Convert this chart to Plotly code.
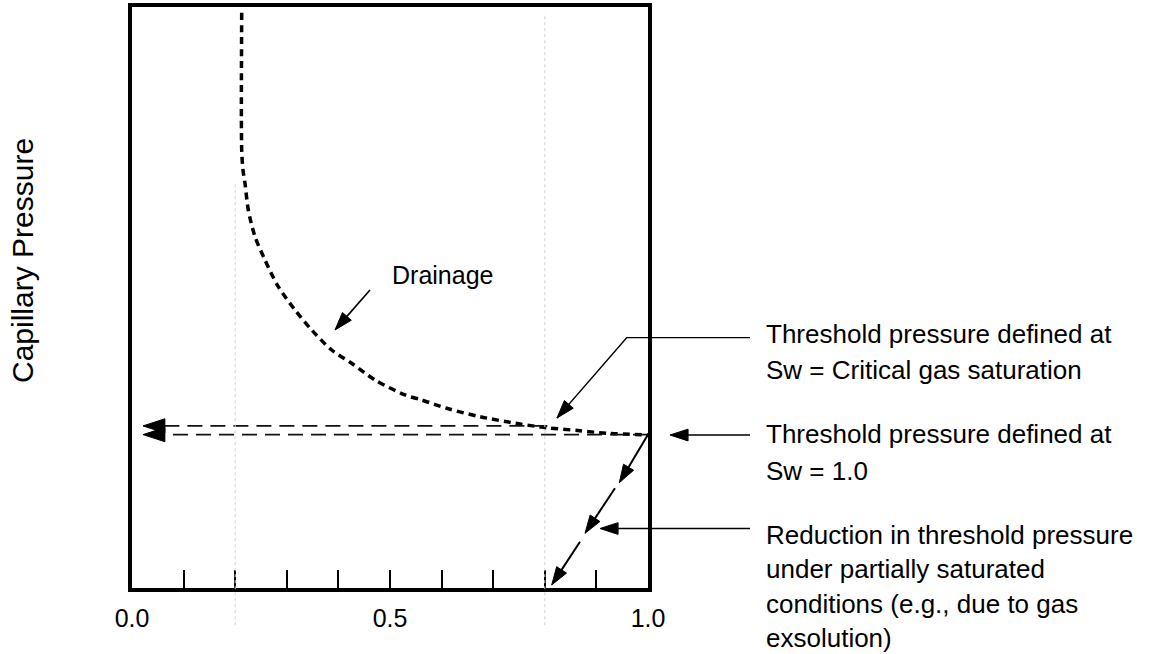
import plotly.graph_objects as go

# ---------------- data (Sw = water saturation, Pc normalised 0..1) ----------------
drain_sw = [0.2126, 0.2126, 0.2150, 0.2190, 0.2254, 0.2384, 0.2578, 0.2835, 0.3159,
            0.3483, 0.3870, 0.4258, 0.4709, 0.5291, 0.5614, 0.6099, 0.6744, 0.7519,
            0.8037, 0.8682, 0.9200, 1.0]
drain_pc = [0.99, 0.7539, 0.7200, 0.6966, 0.6506, 0.6047, 0.5645, 0.5186, 0.4785,
            0.4441, 0.4096, 0.3868, 0.3580, 0.3322, 0.3236, 0.3093, 0.2948, 0.2823,
            0.2759, 0.2707, 0.2663, 0.2633]

# threshold-pressure projections (start Sw, Pc level, arrow tip Sw)
thr_start_sw = [0.805, 1.0]
thr_pc = [0.279, 0.264]
thr_tip_sw = [0.0213, 0.0213]

# reduction path (three arrowed segments from Sw = 1.0 down to the axis)
red_sw = [[1.0, 0.9444], [0.9360, 0.8779], [0.8682, 0.8134]]
red_pc = [[0.264, 0.1812], [0.1716, 0.0941], [0.0797, 0.0052]]

# drainage pointer
drain_arrow_sw = [0.4612, 0.3934]
drain_arrow_pc = [0.5129, 0.4441]

# faint guide lines
guide_sw = [0.2, 0.8]
guide_top = [0.70, 0.99]

# x-axis ticks
tick_vals = [0.0, 0.1, 0.2, 0.3, 0.4, 0.5, 0.6, 0.7, 0.8, 0.9, 1.0]
tick_text = ["0.0", "", "", "", "", "0.5", "", "", "", "", "1.0"]

# leader lines for the notes (on the full-figure overlay axes)
leader_sw = [[1.1977, 0.9587, 0.8236], [1.1977, 1.0426], [1.1977, 0.907]]
leader_pc = [[0.4308, 0.4308, 0.2926], [0.2633, 0.2633], [0.1024, 0.1024]]

note_lines = [
    "Threshold pressure defined at",
    "Sw = Critical gas saturation",
    "Threshold pressure defined at",
    "Sw = 1.0",
    "Reduction in threshold pressure",
    "under partially saturated",
    "conditions (e.g., due to gas",
    "exsolution)",
]
note_pc = [0.4367, 0.3752, 0.2645, 0.2014, 0.0912, 0.0322, -0.0270, -0.0866]
note_sw = 1.2248

y_title = "Capillary Pressure"
drain_label = "Drainage"

# ---------------- layout geometry ----------------
W, H = 1152, 654
PX_L, PX_R, PX_T, PX_B = 132, 648, 7, 588
FONT = "Liberation Sans, Arial, Helvetica, sans-serif"


def x_at(px):
    return (px - PX_L) / (PX_R - PX_L)


def y_at(py):
    return (PX_B - py) / (PX_B - PX_T)


def arrow_marker(n, size):
    return dict(symbol="arrow", size=[0] * (n - 1) + [size], angleref="previous",
                color="black", opacity=1, line=dict(color="black", width=1))


fig = go.Figure()

# faint guides
for xv, yt in zip(guide_sw, guide_top):
    fig.add_trace(go.Scatter(x=[xv, xv], y=[-0.064, yt], xaxis="x2", yaxis="y2",
                             mode="lines", line=dict(color="#d2d2d2", width=1, dash="dot"),
                             hoverinfo="skip", showlegend=False))

# drainage curve
fig.add_trace(go.Scatter(x=drain_sw, y=drain_pc, mode="lines",
                         line=dict(color="black", width=3.5, dash="7px,5px", shape="spline", smoothing=0.8),
                         hoverinfo="skip", showlegend=False))

# threshold projections (dashed, arrow to the left)
for s0, pc, s1 in zip(thr_start_sw, thr_pc, thr_tip_sw):
    fig.add_trace(go.Scatter(x=[s0, s1], y=[pc, pc], mode="lines+markers", cliponaxis=False,
                             line=dict(color="#111111", width=1.8, dash="15px,8px"),
                             marker=arrow_marker(2, 23),
                             hoverinfo="skip", showlegend=False))

# reduction segments
for xs, ys in zip(red_sw, red_pc):
    fig.add_trace(go.Scatter(x=xs, y=ys, mode="lines+markers", cliponaxis=False,
                             line=dict(color="black", width=2),
                             marker=arrow_marker(len(xs), 19),
                             hoverinfo="skip", showlegend=False))

# drainage pointer
fig.add_trace(go.Scatter(x=drain_arrow_sw, y=drain_arrow_pc, mode="lines+markers", cliponaxis=False,
                         line=dict(color="black", width=1.6),
                         marker=arrow_marker(2, 19),
                         hoverinfo="skip", showlegend=False))

# leaders to the notes
for xs, ys in zip(leader_sw, leader_pc):
    fig.add_trace(go.Scatter(x=xs, y=ys, xaxis="x2", yaxis="y2", mode="lines+markers",
                             cliponaxis=False, line=dict(color="black", width=1.3),
                             marker=arrow_marker(len(xs), 19),
                             hoverinfo="skip", showlegend=False))

annotations = []
for txt, pc in zip(note_lines, note_pc):
    annotations.append(dict(text=txt, x=note_sw, y=pc, xref="x2", yref="y2",
                            xanchor="left", yanchor="middle", showarrow=False,
                            font=dict(family=FONT, size=26, color="black")))
annotations.append(dict(text=drain_label, x=0.6027, y=0.5382, xref="x", yref="y",
                        xanchor="center", yanchor="middle", showarrow=False,
                        font=dict(family=FONT, size=25, color="black")))
annotations.append(dict(text=y_title, x=23 / W, y=1 - 261 / H, xref="paper", yref="paper",
                        xanchor="center", yanchor="middle", showarrow=False, textangle=-90,
                        font=dict(family=FONT, size=30, color="black")))

fig.update_layout(
    template="none",
    width=W, height=H, autosize=False,
    margin=dict(l=0, r=0, t=0, b=0, pad=0),
    paper_bgcolor="white", plot_bgcolor="rgba(0,0,0,0)",
    hovermode=False, showlegend=False,
    font=dict(family=FONT, color="black"),
    annotations=annotations,
    xaxis=dict(domain=[PX_L / W, PX_R / W], range=[0, 1], showgrid=False, zeroline=False,
               showline=True, mirror=True, linewidth=3.8, linecolor="black", automargin=False,
               ticks="inside", ticklen=18, tickwidth=2.2, tickcolor="black",
               tickvals=tick_vals, ticktext=tick_text, ticklabelstandoff=5,
               tickfont=dict(family=FONT, size=25, color="black"), fixedrange=True),
    yaxis=dict(domain=[(H - PX_B) / H, (H - PX_T) / H], range=[0, 1], showgrid=False,
               zeroline=False, showline=True, mirror=True, linewidth=3.8, linecolor="black",
               automargin=False, ticks="", showticklabels=False, fixedrange=True),
    xaxis2=dict(domain=[0, 1], anchor="y2", range=[x_at(0), x_at(W)], visible=False,
                automargin=False, fixedrange=True),
    yaxis2=dict(domain=[0, 1], anchor="x2", range=[y_at(H), y_at(0)], visible=False,
                automargin=False, fixedrange=True),
)

fig.write_html("out.html", config={"responsive": False, "displayModeBar": False},
               post_script="document.body.style.margin='0';document.body.style.overflow='hidden';")
